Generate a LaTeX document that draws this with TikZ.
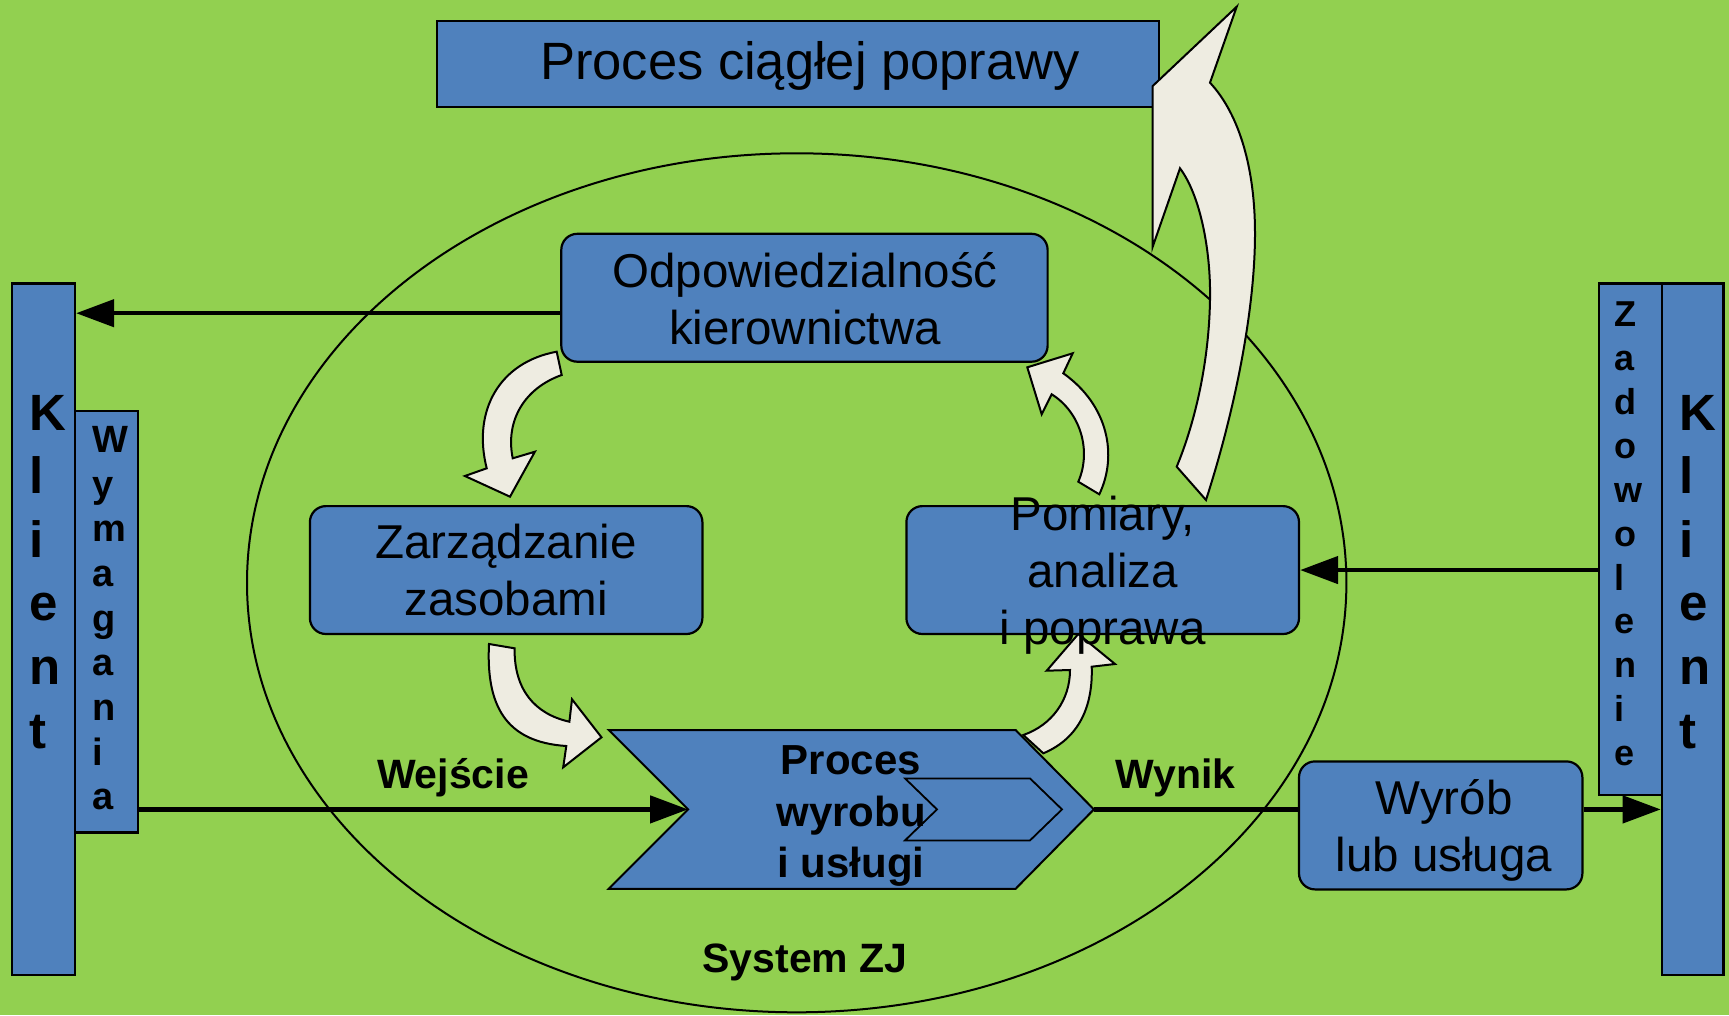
\documentclass[tikz,border=0pt]{standalone}
\usepackage{fontspec}
\setmainfont{Liberation Sans}
\usetikzlibrary{arrows.meta}
\definecolor{bggreen}{RGB}{146,208,80}
\definecolor{boxblue}{RGB}{79,129,189}
\definecolor{arrowfill}{RGB}{238,236,225}

\begin{document}
\begin{tikzpicture}[x=1pt,y=-1pt,
  bar/.style={draw=black, line width=2.2pt, fill=boxblue, inner sep=0pt, anchor=north west},
  rbox/.style={draw=black, line width=2.2pt, fill=boxblue, rounded corners=16pt, inner sep=0pt},
  txt/.style={align=center, inner sep=0pt, font=\fontsize{47.5}{57}\selectfont},
  lbl/.style={inner sep=0pt, anchor=base, font=\fontsize{41}{49}\selectfont\bfseries},
  vlet/.style={align=left, inner sep=0pt, anchor=north west},
  conn/.style={line width=4.5pt, draw=black},
  tipend/.style={-{Triangle[length=38pt,width=27pt]}},
  blockarrow/.style={draw=black, line width=2pt, fill=arrowfill, line join=miter},
  chev/.style={draw=black, line width=2pt, fill=boxblue, line join=miter},
]
% canvas
\useasboundingbox (0,0) rectangle (1729,1015);
\fill[bggreen] (0,0) rectangle (1729,1015);

% quality system
\draw[line width=2pt] (796.7,582.8) ellipse [x radius=549.7pt, y radius=429.5pt];

% continuous improvement banner
\node[bar, draw, minimum width=722.2pt, minimum height=86.1pt] (ccp) at (435.6,19.8) {};
\node[inner sep=0pt, anchor=base, font=\fontsize{52.5}{60}\selectfont] (ccpT) at (810,79) {Proces ciągłej poprawy};

% block arrows of the cycle
\draw[blockarrow] (556.7,351.7) .. controls (500,362) and (472,410) .. (486.7,468.3)
  -- (464.9,476) -- (510,496.7) -- (534.9,451.7) -- (512.7,458.3)
  .. controls (505,420) and (525,388) .. (561.7,375) -- cycle;
\draw[blockarrow] (489,644) .. controls (486,705) and (505,742) .. (566.3,746)
  -- (563.2,767.3) -- (601.5,737.3) -- (572,699.3) -- (569.4,721.7)
  .. controls (535,714) and (514,690) .. (514.6,648.3) -- cycle;
\draw[blockarrow] (1043.3,753.3) .. controls (1080,738) and (1093,705) .. (1091.7,666.7)
  -- (1115,664) -- (1078.3,634) -- (1046.7,670.7) -- (1070,670)
  .. controls (1070,700) and (1052,725) .. (1023.3,735) -- cycle;
\draw[blockarrow] (1099.3,494.3) .. controls (1118,455) and (1108,405) .. (1063.3,373.3)
  -- (1072.7,353.3) -- (1027.3,367.3) -- (1041.7,414.3) -- (1051.7,394.3)
  .. controls (1080,412) and (1092,450) .. (1078.3,481.7) -- cycle;
% improvement loop
\draw[blockarrow] (1176.7,466.7) -- (1206,500)
  .. controls (1235,410) and (1255,310) .. (1255,233.3)
  .. controls (1255,170) and (1240,115) .. (1210,82.7)
  -- (1236.7,6.7) -- (1152.7,86) -- (1152.7,246.7) -- (1180,168.3)
  .. controls (1200,195) and (1211,250) .. (1210,300)
  .. controls (1209,360) and (1196,420) .. (1176.7,466.7) -- cycle;

% process boxes
\node[rbox, minimum width=486.3pt, minimum height=127.9pt] (odp) at (804.45,297.75) {};
\node[txt] (odpT) at (805,299) {Odpowiedzialność\\kierownictwa};
\node[rbox, minimum width=392.5pt, minimum height=127.9pt] (zas) at (506.15,570.05) {};
\node[txt] (zasT) at (506,570) {Zarządzanie\\zasobami};
\node[rbox, minimum width=392.6pt, minimum height=127.9pt] (pom) at (1102.7,570.05) {};
\node[txt] (pomT) at (1102.7,575) {Pomiary,\\analiza\\i poprawa};
\node[rbox, minimum width=283.4pt, minimum height=128pt] (wyr) at (1440.7,825.4) {};
\node[txt] (wyrT) at (1444,830) {Wyrób\\lub usługa};

% product realisation chevron
\draw[chev] (608.7,730) -- (1015.6,730) -- (1093.9,809.4) -- (1015.6,888.8)
  -- (608.7,888.8) -- (688.1,809.4) -- cycle;
\coordinate (notch) at (688.1,809.4);
\coordinate (chevtip) at (1093.9,809.4);
\draw[chev, line width=1.8pt] (905,778.4) -- (1030,778.4) -- (1062,809.4) -- (1030,840.4)
  -- (905,840.4) -- (937,809.4) -- cycle;
\node[align=center, inner sep=0pt, font=\fontsize{42}{51.5}\selectfont\bfseries] (procT) at (851,816) {Proces\\wyrobu\\i usługi};

% customer bars
\node[bar, minimum width=62.9pt, minimum height=691.4pt] (klientL) at (11,282.3) {};
\node[bar, minimum width=62.8pt, minimum height=421.2pt] (wym) at (73.9,410.2) {};
\node[bar, minimum width=62.9pt, minimum height=511.6pt] (zad) at (1597.8,282.3) {};
\node[bar, minimum width=61.7pt, minimum height=691.4pt] (klientR) at (1660.7,282.3) {};
\node[vlet, font=\fontsize{51}{63.6}\selectfont\bfseries] (klientLT) at (29,394.8) {K\\l\\i\\e\\n\\t};
\node[vlet, font=\fontsize{38}{44.7}\selectfont\bfseries] (wymT) at (92,426) {W\\y\\m\\a\\g\\a\\n\\i\\a};
\node[vlet, font=\fontsize{36}{43.85}\selectfont\bfseries] (zadT) at (1614,302) {Z\\a\\d\\o\\w\\o\\l\\e\\n\\i\\e};
\node[vlet, font=\fontsize{51}{63.6}\selectfont\bfseries] (klientRT) at (1679,394.8) {K\\l\\i\\e\\n\\t};

% flows
\coordinate (row1) at (0,313.2);
\draw[conn, tipend] (odp.west |- row1) -- (klientL.east |- row1);
\draw[conn, tipend] (zad.west |- pom.east) -- (pom.east);
\draw[conn, tipend] (wym.east |- notch) -- (notch);
\draw[conn] (chevtip) -- (wyr.west |- chevtip);
\draw[conn, tipend] (wyr.east |- chevtip) -- (klientR.west |- chevtip);

% labels
\node[lbl] (wej) at (453,788.3) {Wejście};
\node[lbl] (wyn) at (1175.4,788.3) {Wynik};
\node[lbl] (szj) at (805,972.6) {System ZJ};
\end{tikzpicture}
\end{document}
